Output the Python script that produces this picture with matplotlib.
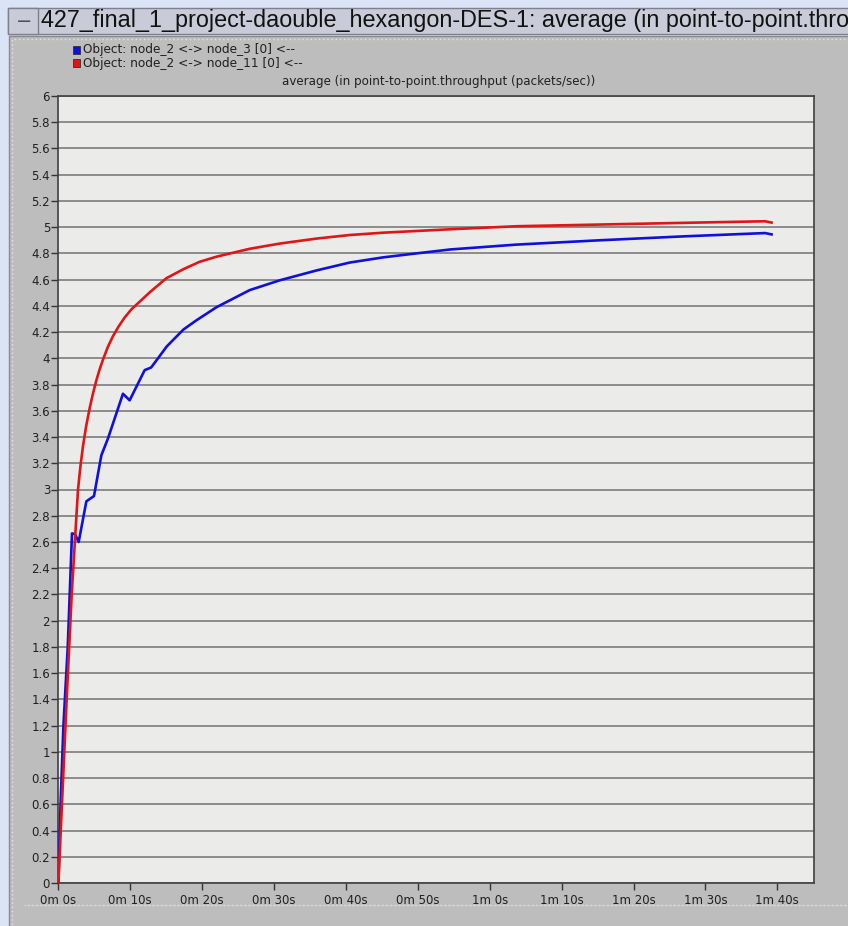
import matplotlib
matplotlib.use("Agg")
import matplotlib.pyplot as plt
from matplotlib.patches import Rectangle

# values (time in seconds, throughput in packets/sec)
blue_t = [0, 0.3, 0.7, 1.3, 1.89, 2.3, 2.82, 3.89, 4.95, 5.97, 6.9, 8.98, 9.91, 12.0, 12.9,
          13.85, 15.06, 17.4, 19.2, 22.0, 26.6, 30.8, 35.9, 40.5, 45.2, 49.8, 54.5, 63.7,
          75.3, 87.0, 98.3, 99.2]
blue_v = [0, 0.6, 1.2, 1.8, 2.665, 2.66, 2.60, 2.91, 2.95, 3.26, 3.39, 3.73, 3.68, 3.91, 3.93,
          4.00, 4.09, 4.22, 4.29, 4.39, 4.52, 4.595, 4.67, 4.73, 4.77, 4.80, 4.83, 4.867,
          4.90, 4.93, 4.955, 4.945]

red_t = [0, 1.15, 1.85, 2.17, 2.45, 2.73, 3.05, 3.42, 3.85, 4.35, 4.8, 5.27, 5.7, 6.2, 6.9,
         7.6, 8.4, 9.2, 10.1, 11.07, 12.74, 15.0, 17.4, 19.6, 22.0, 26.6, 30.8, 35.9, 40.5,
         45.2, 54.5, 63.7, 75.3, 87.0, 98.3, 99.2]
red_v = [0, 1.4, 2.2, 2.49, 2.75, 3.0, 3.17, 3.33, 3.48, 3.62, 3.73, 3.83, 3.91, 3.99, 4.09,
         4.17, 4.245, 4.31, 4.37, 4.42, 4.505, 4.61, 4.68, 4.735, 4.775, 4.835, 4.875, 4.913, 4.94,
         4.958, 4.984, 5.007, 5.02, 5.033, 5.045, 5.035]

legend_labels = ["Object: node_2 <-> node_3 [0] <--", "Object: node_2 <-> node_11 [0] <--"]
x_ticks = [0, 10, 20, 30, 40, 50, 60, 70, 80, 90, 100]
x_labels = ["0m 0s", "0m 10s", "0m 20s", "0m 30s", "0m 40s", "0m 50s",
            "1m 0s", "1m 10s", "1m 20s", "1m 30s", "1m 40s"]
y_ticks = [round(i * 0.2, 1) for i in range(31)]

# the window title is cut off at the right edge in the original screenshot
window_title = "427_final_1_project-daouble_hexangon-DES-1: average (in point-to-point.thro"
plot_title = "average (in point-to-point.throughput (packets/sec))"

W, H = 848, 926
narrow = ["Liberation Sans Narrow", "DejaVu Sans"]
plt.rcParams["font.family"] = narrow

fig = plt.figure(figsize=(W / 100, H / 100), dpi=100)
fig.patch.set_facecolor("#dbe3f6")


def box(x, y, w, h, **kw):
    # rectangle in pixel coords (top-left origin), drawn behind the axes
    fig.patches.append(Rectangle((x / W, 1 - (y + h) / H), w / W, h / H,
                                 transform=fig.transFigure, figure=fig, zorder=-5, **kw))


# window frame
box(9, 36, 850, 900, facecolor="#bdbdbd", edgecolor="#8a8a8a", lw=1)
box(12, 39, 840, 890, facecolor="none", edgecolor="#e4e4e4", lw=1, ls=(0, (1, 2)))
box(24, 905, 830, 0.1, facecolor="none", edgecolor="#d8d8d8", lw=1, ls=(0, (1, 2)))
box(8, 8, 850, 26, facecolor="#c9cbd8", edgecolor="#7e8090", lw=1)
box(8, 8, 30, 26, facecolor="#c9cbd8", edgecolor="#7e8090", lw=1)
fig.text(16 / W, 1 - 21 / H, "\u2212", fontsize=14, color="#505050", va="center",
         family="DejaVu Sans")
fig.text(41 / W, 1 - 21 / H, window_title, fontsize=16.8, color="#111111", va="center",
         family=["Liberation Sans", "DejaVu Sans"])

# legend
colors = ["#1010dd", "#e01515"]
for i, (lab, c) in enumerate(zip(legend_labels, colors)):
    yy = 50 + i * 13
    box(73, yy - 4, 7, 8, facecolor=c, edgecolor="#303030", lw=0.6)
    fig.text(83 / W, 1 - yy / H, lab, fontsize=8.7, color="#202020", va="center")

ax = fig.add_axes([58.4 / W, 1 - 883 / H, (814 - 58.4) / W, (883 - 96) / H])
ax.set_facecolor("#ebebea")
ax.plot(blue_t, blue_v, color=colors[0], lw=1.9, zorder=3)
ax.plot(red_t, red_v, color=colors[1], lw=1.9, zorder=4)

ax.set_xlim(0, 105.1)
ax.set_ylim(0, 6)
ax.set_yticks(y_ticks)
ax.set_yticklabels([("%g" % v) for v in y_ticks])
ax.set_xticks(x_ticks)
ax.set_xticklabels(x_labels)
ax.tick_params(axis="y", direction="out", length=5, width=1, colors="#333333",
               labelsize=8.5, labelcolor="#202020", pad=1)
ax.tick_params(axis="x", direction="out", length=5, width=1, colors="#333333",
               labelsize=8.5, labelcolor="#202020", pad=3)
ax.yaxis.grid(True, color="#858585", lw=1.3)
ax.set_axisbelow(True)
for s in ax.spines.values():
    s.set_color("#404040")
    s.set_linewidth(1.2)

fig.text(439 / W, 1 - 81 / H, plot_title, fontsize=8.6, color="#202020",
         ha="center", va="center")

fig.savefig("out.png", dpi=100, facecolor=fig.get_facecolor())
